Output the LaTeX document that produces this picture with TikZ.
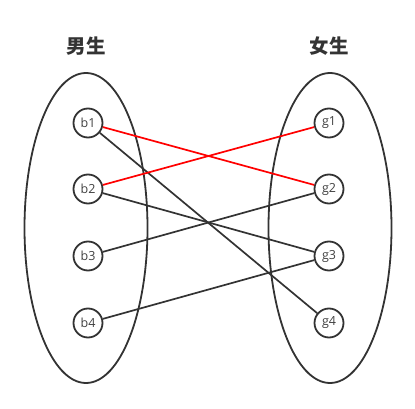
\documentclass[tikz,border=0pt]{standalone}
\usepackage{fontspec}
\setmainfont{Open Sans}
\newfontfamily\cjk{Noto Sans CJK SC}
\begin{document}
\begin{tikzpicture}[x=1pt,y=-1pt,
  dk/.style={draw=black!80, line width=1.8pt},
  vert/.style={circle, draw=black!80, line width=1.8pt, minimum size=29pt, inner sep=0pt, font=\fontsize{12.5}{12.5}\selectfont, text=black!75},
  edge/.style={draw=black!80, line width=1.7pt},
  redge/.style={draw=red, line width=1.7pt},
  title/.style={font=\cjk\bfseries\fontsize{19.5}{19.5}\selectfont, text=black!80}]
\useasboundingbox (0,0) rectangle (415,409);
\draw[dk] (86,228) ellipse [x radius=61.5, y radius=155];
\draw[dk] (330,228) ellipse [x radius=61.5, y radius=155];
\node[title] (tb) at (86,46) {男生};
\node[title] (tg) at (329,46) {女生};
\node[vert] (b1) at (88,123) {b1};
\node[vert] (b2) at (88,189) {b2};
\node[vert] (b3) at (88,256) {b3};
\node[vert] (b4) at (88,323) {b4};
\node[vert] (g1) at (329,123) {g1};
\node[vert] (g2) at (329,189) {g2};
\node[vert] (g3) at (329,256) {g3};
\node[vert] (g4) at (329,323) {g4};
\draw[edge] (b1) -- (g4);
\draw[edge] (b2) -- (g3);
\draw[edge] (b3) -- (g2);
\draw[edge] (b4) -- (g3);
\draw[redge] (b1) -- (g2);
\draw[redge] (b2) -- (g1);
\end{tikzpicture}
\end{document}
